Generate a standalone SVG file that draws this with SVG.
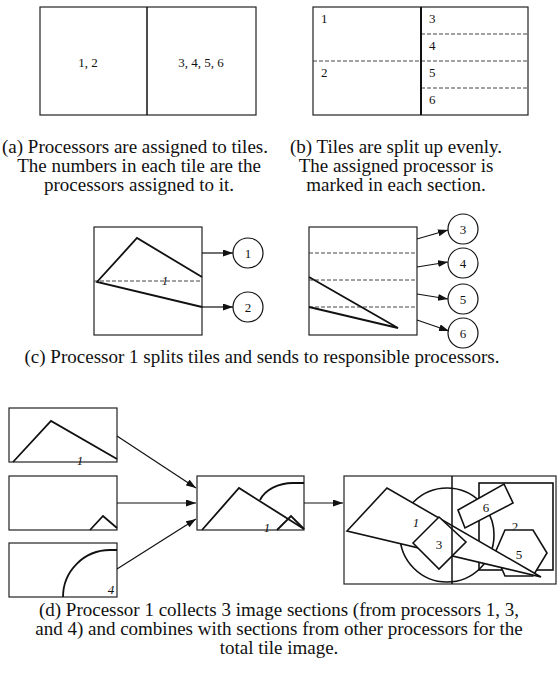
<svg xmlns="http://www.w3.org/2000/svg" width="559" height="675" viewBox="0 0 559 675">
<style>
text{font-family:"Liberation Serif","Times New Roman",serif;fill:#111}
.cap{font-size:19px;text-anchor:middle}
.lbl{font-size:13px}
.c{text-anchor:middle}
.it{font-style:italic}
.box{fill:#fff;stroke:#222;stroke-width:1.2}
.dash{stroke:#444;stroke-width:1;stroke-dasharray:4 2;fill:none}
.thick{stroke:#111;stroke-width:1.8;fill:none}
.shape{stroke:#111;stroke-width:1.6;fill:#fff}
.circ{fill:#fff;stroke:#111;stroke-width:1.2}
.arr{stroke:#111;stroke-width:1.2;fill:none;marker-end:url(#ah)}
</style>
<defs>
<marker id="ah" markerUnits="userSpaceOnUse" markerWidth="11" markerHeight="8" refX="10" refY="3.5" orient="auto">
<path d="M0,0 L10,3.5 L0,7 z" fill="#111"/>
</marker>
</defs>
<rect width="559" height="675" fill="#fff"/>

<!-- (a) -->
<g id="tileA">
<rect class="box" x="40" y="7" width="216" height="108"/>
<line x1="147" y1="7" x2="147" y2="115" stroke="#111" stroke-width="1.5"/>
<text class="lbl c" x="88" y="67">1, 2</text>
<text class="lbl c" x="201" y="67">3, 4, 5, 6</text>
</g>
<g id="captionA">
<text class="cap" x="135" y="153" font-size="18.5">(a) Processors are assigned to tiles.</text>
<text class="cap" x="139" y="172">The numbers in each tile are the</text>
<text class="cap" x="139" y="191">processors assigned to it.</text>
</g>

<!-- (b) -->
<g id="tileB">
<rect class="box" x="313" y="7" width="215" height="108"/>
<line class="dash" x1="313" y1="61" x2="528" y2="61"/>
<line class="dash" x1="421" y1="34" x2="528" y2="34"/>
<line class="dash" x1="421" y1="88" x2="528" y2="88"/>
<line x1="421" y1="7" x2="421" y2="115" stroke="#111" stroke-width="2"/>
<text class="lbl" x="321" y="23">1</text>
<text class="lbl" x="321" y="77">2</text>
<text class="lbl" x="429" y="23">3</text>
<text class="lbl" x="429" y="50">4</text>
<text class="lbl" x="429" y="77">5</text>
<text class="lbl" x="429" y="104">6</text>
</g>
<g id="captionB">
<text class="cap" x="396" y="153">(b) Tiles are split up evenly.</text>
<text class="cap" x="396" y="172">The assigned processor is</text>
<text class="cap" x="396" y="191">marked in each section.</text>
</g>

<!-- (c) -->
<g id="tileC1">
<rect class="box" x="94" y="227" width="108" height="108"/>
<line class="dash" x1="94" y1="281" x2="202" y2="281"/>
<polyline class="thick" points="202,277 137,238 97,282 202,307"/>
<text class="lbl it c" x="165" y="285" font-size="12">1</text>
</g>
<g id="tileC2">
<rect class="box" x="309" y="227" width="108" height="108"/>
<line class="dash" x1="309" y1="253" x2="417" y2="253"/>
<line class="dash" x1="309" y1="280" x2="417" y2="280"/>
<line class="dash" x1="309" y1="307" x2="417" y2="307"/>
<polyline class="thick" points="309,277 398,328 309,307"/>
</g>
<g id="p1"><circle class="circ" cx="248" cy="253" r="15"/><text class="lbl c" x="248" y="258">1</text></g>
<g id="p2"><circle class="circ" cx="248" cy="307" r="15"/><text class="lbl c" x="248" y="312">2</text></g>
<g id="p3"><circle class="circ" cx="463" cy="229" r="15"/><text class="lbl c" x="463" y="234">3</text></g>
<g id="p4"><circle class="circ" cx="463" cy="263" r="15"/><text class="lbl c" x="463" y="268">4</text></g>
<g id="p5"><circle class="circ" cx="463" cy="299" r="15"/><text class="lbl c" x="463" y="304">5</text></g>
<g id="p6"><circle class="circ" cx="463" cy="333" r="15"/><text class="lbl c" x="463" y="338">6</text></g>
<g id="captionC">
<text class="cap" x="262" y="363">(c) Processor 1 splits tiles and sends to responsible processors.</text>
</g>

<!-- (d) -->
<g id="sec1">
<rect class="box" x="9" y="408" width="108" height="54"/>
<polyline class="thick" points="13,462 51,421 117,459"/>
<text class="lbl it c" x="80" y="465" font-size="11">1</text>
</g>
<g id="sec3">
<rect class="box" x="9" y="476" width="108" height="54"/>
<polyline class="thick" points="90,530 103,516 117,528"/>
</g>
<g id="sec4">
<rect class="box" x="9" y="543" width="108" height="54"/>
<path class="thick" d="M63,597 A47,47 0 0 1 110,550 L117,550"/>
<text class="lbl it c" x="111" y="594" font-size="8">4</text>
</g>
<g id="combined">
<rect class="box" x="197" y="476" width="107" height="54"/>
<path class="thick" d="M260,500 A35,26 0 0 1 293,483 L304,483"/>
<polyline class="thick" points="202,530 239,488 304,529"/>
<polyline class="thick" points="277,530 291,516 304,529"/>
<text class="lbl it c" x="267" y="532" font-size="10">1</text>
</g>
<g id="total">
<rect class="box" x="344" y="476" width="212" height="108"/>
<circle cx="447" cy="535" r="47" fill="none" stroke="#111" stroke-width="1.6"/>
<rect x="479" y="483" width="74" height="87" fill="none" stroke="#111" stroke-width="1.6"/>
<text class="lbl c" x="515" y="531" font-size="14">2</text>
<polygon class="shape" points="505,530 533,530 547,553 533,576 505,576 495,553"/>
<text class="lbl c" x="519" y="559" font-size="14">5</text>
<polygon class="shape" points="458,510 504,484 513,503 465,528"/>
<text class="lbl c" x="486" y="512" font-size="14">6</text>
<polygon class="shape" points="347,531 387,488 541,577"/>
<text class="lbl it c" x="416" y="527" font-size="14">1</text>
<polygon class="shape" points="413,543 439,517 466,542 439,569"/>
<text class="lbl c" x="439" y="549" font-size="14">3</text>
<line x1="452" y1="476" x2="452" y2="584" stroke="#111" stroke-width="1.5"/>
</g>
<g id="captionD">
<text class="cap" x="279" y="616">(d) Processor 1 collects 3 image sections (from processors 1, 3,</text>
<text class="cap" x="279" y="635">and 4) and combines with sections from other processors for the</text>
<text class="cap" x="279" y="654">total tile image.</text>
</g>

<g id="connectors">
<line class="arr" x1="202" y1="253" x2="233" y2="253"/>
<line class="arr" x1="202" y1="307" x2="233" y2="307"/>
<line class="arr" x1="417" y1="239" x2="448" y2="230"/>
<line class="arr" x1="417" y1="267" x2="448" y2="262"/>
<line class="arr" x1="417" y1="294" x2="448" y2="299"/>
<line class="arr" x1="417" y1="320" x2="449" y2="331"/>
<line class="arr" x1="117" y1="436" x2="196" y2="488"/>
<line class="arr" x1="117" y1="503" x2="196" y2="503"/>
<line class="arr" x1="117" y1="569" x2="196" y2="519"/>
<line class="arr" x1="304" y1="503" x2="343" y2="503"/>
</g>
</svg>
